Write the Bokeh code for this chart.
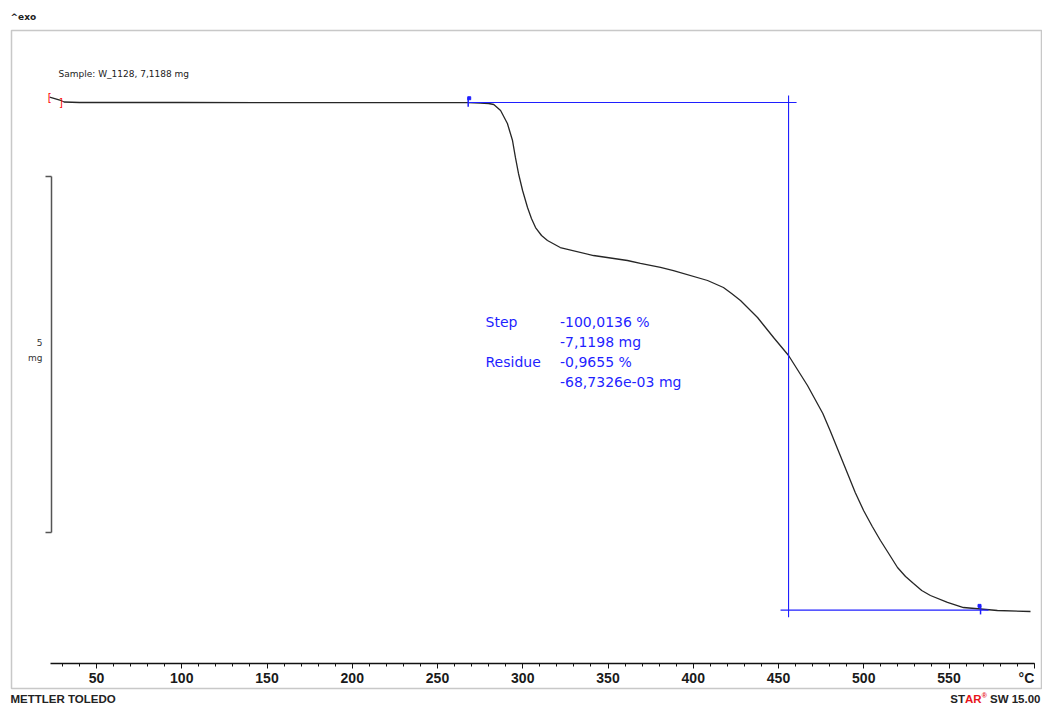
from bokeh.plotting import figure
from bokeh.models import Range1d, LinearAxis, FixedTicker, Label, BoxAnnotation
from bokeh.core.properties import value
from bokeh.embed import file_html
from bokeh.resources import INLINE

# ---------------- data ----------------
temp_c = [22.5, 28.5, 31.0, 40.0, 100.0, 150.0, 200.0, 250.0, 268.0, 275.0, 280.0,
          283.0, 287.0, 291.0, 294.0, 295.7, 297.5, 299.9, 302.8, 305.1, 307.5, 311.0,
          314.5, 322.0, 341.5, 361.4, 369.0, 380.8, 388.4, 408.4, 417.7, 422.5, 427.7,
          437.7, 447.1, 455.9, 467.0, 476.0, 480.5, 485.5, 490.5, 495.0, 499.9, 505.0,
          509.8, 515.0, 519.8, 524.5, 529.2, 534.0, 539.1, 549.1, 558.5, 568.5, 578.4,
          597.8]
mass_mg = [7.197, 7.155, 7.127, 7.120, 7.120, 7.119, 7.118, 7.118, 7.117, 7.113, 7.106,
           7.092, 7.008, 6.825, 6.586, 6.348, 6.123, 5.884, 5.645, 5.491, 5.364, 5.252,
           5.182, 5.083, 4.971, 4.901, 4.859, 4.803, 4.760, 4.620, 4.522, 4.437, 4.339,
           4.100, 3.819, 3.567, 3.145, 2.752, 2.499, 2.204, 1.909, 1.642, 1.390, 1.165,
           0.968, 0.772, 0.589, 0.463, 0.364, 0.266, 0.196, 0.098, 0.027, 0.006, -0.015,
           -0.029]

x_ticks = [50, 100, 150, 200, 250, 300, 350, 400, 450, 500, 550, 600]
x_minor_ticks = list(range(30, 601, 10))
x_unit = "°C"

step_limits_c = [268.0, 568.5]        # evaluation limits (blue flags)
step_levels_mg = [7.12, -0.01]        # baselines before / after the step
step_mid_c = 455.9                    # step midpoint (vertical line)

scale_bar_mg = [1.08, 6.08]           # 5 mg scale bar
scale_bar_label = ["5", "mg"]

sample_text = "Sample: W_1128, 7,1188 mg"
result_names = ["Step", "", "Residue", ""]
result_values = ["-100,0136 %", "-7,1198 mg", "-0,9655 %", "-68,7326e-03 mg"]

# ---------------- page geometry ----------------
W, H = 1042, 706
X0_PX, X0_T, PX_PER_C = 96.0, 50.0, 1.705
Y0_PX, Y0_MG, PX_PER_MG = 102.0, 7.12, 71.2


def tx(px):
    return X0_T + (px - X0_PX) / PX_PER_C


def my(py):
    return Y0_MG - (py - Y0_PX) / PX_PER_MG


p = figure(width=W, height=H, output_backend="svg", toolbar_location=None,
           x_axis_type=None, y_axis_type=None, title=None,
           x_range=Range1d(tx(0), tx(W)), y_range=Range1d(my(H), my(0)),
           min_border=0, min_border_left=0, min_border_right=0,
           min_border_top=0, min_border_bottom=0)
p.outline_line_color = None
p.background_fill_color = "white"
p.border_fill_color = "white"

# outer frame
p.add_layout(BoxAnnotation(left=tx(11), right=tx(1041), top=my(30), bottom=my(688),
                           fill_color=None, fill_alpha=0, line_color="#4a4a4a",
                           line_width=1.5))

# x axis drawn inside the frame
xaxis = LinearAxis(fixed_location=my(663), bounds=(tx(50), 600),
                   ticker=FixedTicker(ticks=x_ticks, minor_ticks=x_minor_ticks))
xaxis.major_label_overrides = {600: ""}
xaxis.axis_line_color = "#111111"
xaxis.axis_line_width = 1.5
xaxis.major_tick_line_color = "#111111"
xaxis.minor_tick_line_color = "#111111"
xaxis.major_tick_in = 0
xaxis.major_tick_out = 5
xaxis.minor_tick_in = 0
xaxis.minor_tick_out = 3
xaxis.major_label_standoff = 4
xaxis.major_label_text_font = "Liberation Sans"
xaxis.major_label_text_font_style = "bold"
xaxis.major_label_text_font_size = "14px"
xaxis.major_label_text_color = "#1a1a1a"
p.add_layout(xaxis, "below")

p.add_layout(Label(x=600, y=my(669), text=x_unit, text_align="right",
                   text_baseline="top", text_font="Liberation Sans",
                   text_font_style="bold", text_font_size="14px",
                   text_color="#1a1a1a"))

# 5 mg scale bar as a fixed y axis
yaxis = LinearAxis(fixed_location=tx(50.5), bounds=tuple(scale_bar_mg),
                   ticker=FixedTicker(ticks=scale_bar_mg, minor_ticks=[]))
yaxis.major_label_overrides = {scale_bar_mg[0]: "", scale_bar_mg[1]: ""}
yaxis.axis_line_color = "#555555"
yaxis.axis_line_width = 1.5
yaxis.major_tick_line_color = "#555555"
yaxis.major_tick_line_width = 1.5
yaxis.major_tick_in = 0
yaxis.major_tick_out = 6
yaxis.minor_tick_out = 0
yaxis.major_label_text_font_size = "9px"
p.add_layout(yaxis, "left")

mid_bar = (scale_bar_mg[0] + scale_bar_mg[1]) / 2
p.add_layout(Label(x=tx(42), y=mid_bar, y_offset=12, text=scale_bar_label[0],
                   text_align="right", text_baseline="middle",
                   text_font="DejaVu Sans", text_font_size="9px", text_color="#333333"))
p.add_layout(Label(x=tx(42), y=mid_bar, y_offset=-3, text=scale_bar_label[1],
                   text_align="right", text_baseline="middle",
                   text_font="DejaVu Sans", text_font_size="9px", text_color="#333333"))

# TGA curve
p.line(temp_c, mass_mg, line_color="#262626", line_width=1.3)

# curve start brackets
p.text(x=[temp_c[0], temp_c[1] + 0.6], y=[mass_mg[0], mass_mg[1] - 0.03], text=["[", "]"],
       text_color="red", text_font=value("DejaVu Sans"), text_font_size="10px",
       text_align="center", text_baseline="middle")

# step evaluation construction (blue)
EXT_C, EXT_MG = 4.7, 0.10
blue = "#1f1fff"
p.segment(x0=[step_limits_c[0], step_mid_c - EXT_C, step_mid_c],
          y0=[step_levels_mg[0], step_levels_mg[1], step_levels_mg[0] + EXT_MG],
          x1=[step_mid_c + EXT_C, step_limits_c[1] + EXT_C, step_mid_c],
          y1=[step_levels_mg[0], step_levels_mg[1], step_levels_mg[1] - EXT_MG],
          line_color=blue, line_width=1.1)
FLAG = 0.06
p.segment(x0=step_limits_c, x1=step_limits_c,
          y0=[l - FLAG for l in step_levels_mg], y1=[l + FLAG for l in step_levels_mg],
          line_color=blue, line_width=1.5)
p.scatter(x=[step_limits_c[0] + 0.6, step_limits_c[1] - 0.6],
          y=[step_levels_mg[0] + FLAG, step_levels_mg[1] + FLAG],
          marker="square", size=3, fill_color=blue, line_color=blue)

# result texts
for i, (name, val) in enumerate(zip(result_names, result_values)):
    base = my(321.5 + 20 * i)
    if name:
        p.add_layout(Label(x=tx(485), y=base, text=name, text_align="left",
                           text_baseline="alphabetic", text_font="DejaVu Sans",
                           text_font_size="14px", text_color=blue))
    p.add_layout(Label(x=tx(559.5), y=base, text=val, text_align="left",
                       text_baseline="alphabetic", text_font="DejaVu Sans",
                       text_font_size="14px", text_color=blue))

# header / footer texts
p.add_layout(Label(x=tx(10), y=my(16), text="^exo", text_align="left",
                   text_baseline="middle", text_font="DejaVu Sans",
                   text_font_style="bold", text_font_size="9px", text_color="#222222"))
p.add_layout(Label(x=tx(58), y=my(73), text=sample_text, text_align="left",
                   text_baseline="middle", text_font="DejaVu Sans",
                   text_font_size="9px", text_color="#222222"))

FOOT_Y = my(698)
p.add_layout(Label(x=tx(10), y=FOOT_Y, text="METTLER TOLEDO", text_align="left",
                   text_baseline="middle", text_font="Liberation Sans",
                   text_font_style="bold", text_font_size="11.5px", text_color="#222222"))

FOOT = dict(y=FOOT_Y, text_baseline="middle", text_font="Liberation Sans",
            text_font_style="bold", text_font_size="11.5px", text_align="right")
p.add_layout(Label(x=tx(1040), text="SW 15.00", text_color="#222222", **FOOT))
p.add_layout(Label(x=tx(981), text="AR", text_color="#e8141c", **FOOT))
p.add_layout(Label(x=tx(964.5), text="ST", text_color="#222222", **FOOT))
p.add_layout(Label(x=tx(986.5), y=my(695), text="\u00ae", text_align="right",
                   text_baseline="middle", text_font="Liberation Sans",
                   text_font_style="bold", text_font_size="7px", text_color="#e8141c"))

open("out.html", "w").write(file_html(p, INLINE))
